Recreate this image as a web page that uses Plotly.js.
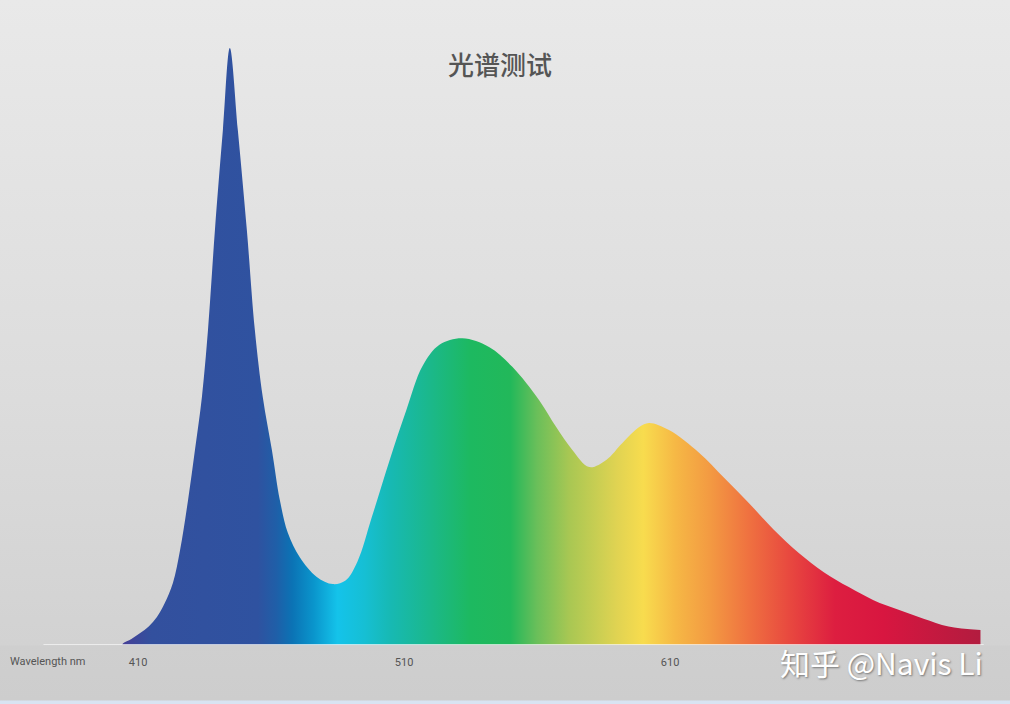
<!DOCTYPE html>
<html>
<head>
<meta charset="utf-8">
<script src="https://cdn.plot.ly/plotly-3.0.1.min.js"></script>
<style>
  html, body { margin: 0; padding: 0; }
  #chart {
    width: 1010px; height: 704px;
    background: linear-gradient(to bottom, #e9e9e9 0px, #dcdcdc 400px, #d2d2d2 645px, #cfcfcf 646px, #cdcdcd 700px, #d8e4f2 701px, #d8e4f2 704px);
  }
</style>
</head>
<body>
<div id="chart"></div>
<script>
// Wavelength (nm) and relative intensity
const wavelength = [404.0, 404.4, 407.5, 410.8, 414.0, 417.1, 420.0, 423.1, 425.8, 428.8, 431.4, 434.0, 436.3, 438.9, 441.9, 444.5, 447.5, 450.9, 453.9, 456.9, 460.3, 463.3, 466.3, 470.8, 477.2, 483.2, 488.0, 492.5, 497.8, 504.6, 510.9, 516.9, 523.3, 531.9, 542.1, 550.7, 560.8, 567.2, 573.2, 579.6, 586.0, 592.0, 598.4, 602.1, 609.6, 620.9, 630.3, 639.6, 649.0, 658.4, 667.8, 677.2, 686.5, 695.9, 705.3, 714.7, 726.7];
const intensity = [0.0, 0.003, 0.010, 0.020, 0.031, 0.047, 0.070, 0.104, 0.159, 0.243, 0.327, 0.415, 0.528, 0.695, 0.863, 1.0, 0.863, 0.695, 0.528, 0.415, 0.327, 0.243, 0.188, 0.147, 0.114, 0.102, 0.108, 0.140, 0.213, 0.310, 0.394, 0.467, 0.503, 0.514, 0.499, 0.466, 0.410, 0.365, 0.327, 0.298, 0.310, 0.338, 0.365, 0.372, 0.360, 0.322, 0.280, 0.238, 0.193, 0.154, 0.122, 0.097, 0.075, 0.059, 0.044, 0.031, 0.025];

// Colour of the fill at each wavelength
const colorNm = [404, 415, 455, 462, 468, 476, 485, 495, 505, 520, 535, 550, 560, 572, 590, 600, 612, 625, 640, 655, 672, 690, 727];
const colorHex = ['#463f96', '#33509e', '#2f52a0', '#1f5fa8', '#0b73b5', '#0a95cc', '#14c3ea', '#16bfd4', '#17b9b3', '#1bb88a', '#1db960', '#22b85a', '#6abf5a', '#a8c753', '#e0d352', '#f8dc4e', '#f6b845', '#f39a42', '#ef7040', '#e8483f', '#dd1e40', '#d81640', '#b21c3f'];

const tickVals = [410, 510, 610];
const tickText = ['410', '510', '610'];
const titleText = '光谱测试';
const axisLabel = 'Wavelength nm';
const creditText = '知乎 @Navis Li';

const gStart = colorNm[0], gStop = colorNm[colorNm.length - 1];
const colorscale = colorNm.map((nm, i) => [(nm - gStart) / (gStop - gStart), colorHex[i]]);

const trace = {
  type: 'scatter',
  mode: 'lines',
  x: wavelength,
  y: intensity,
  fill: 'tozeroy',
  line: { width: 0, color: 'rgba(0,0,0,0)', shape: 'spline', smoothing: 1 },
  fillgradient: { type: 'horizontal', start: gStart, stop: gStop, colorscale: colorscale },
  hoverinfo: 'skip'
};

const layout = {
  width: 1010, height: 704,
  margin: { l: 0, r: 0, t: 20, b: 59 },
  paper_bgcolor: 'rgba(0,0,0,0)',
  plot_bgcolor: 'rgba(0,0,0,0)',
  showlegend: false,
  title: {
    text: titleText,
    x: 0.495, xanchor: 'center',
    y: 0.906, yanchor: 'middle',
    font: { family: 'Noto Sans CJK SC', size: 26, color: '#555555', weight: 500 }
  },
  xaxis: {
    range: [358.1, 737.8],
    showgrid: false, zeroline: false, showline: false,
    tickvals: tickVals, ticktext: tickText,
    ticks: '', ticklabelstandoff: 9,
    tickfont: { family: 'Roboto', size: 11, color: '#555555' },
    fixedrange: true
  },
  yaxis: {
    range: [0, 1.047],
    visible: false, showgrid: false, zeroline: false,
    fixedrange: true
  },
  shapes: [{
    type: 'line', xref: 'paper', yref: 'y',
    x0: 0.043, x1: 0.974, y0: 0, y1: 0,
    line: { color: '#f4f4f4', width: 1.5 }
  }],
  annotations: [
    {
      text: axisLabel, xref: 'paper', yref: 'paper',
      x: 0.008, y: -0.027, xanchor: 'left', yanchor: 'middle',
      showarrow: false,
      font: { family: 'Roboto', size: 11, color: '#555555' }
    },
    {
      text: creditText, xref: 'paper', yref: 'paper',
      x: 0.975, y: -0.027, xanchor: 'right', yanchor: 'middle',
      showarrow: false,
      font: { family: 'Noto Sans CJK SC', size: 30, color: '#ffffff', shadow: '1px 1px 2px #777777' }
    }
  ]
};

Plotly.newPlot('chart', [trace], layout, { displayModeBar: false, staticPlot: true });
</script>
</body>
</html>
